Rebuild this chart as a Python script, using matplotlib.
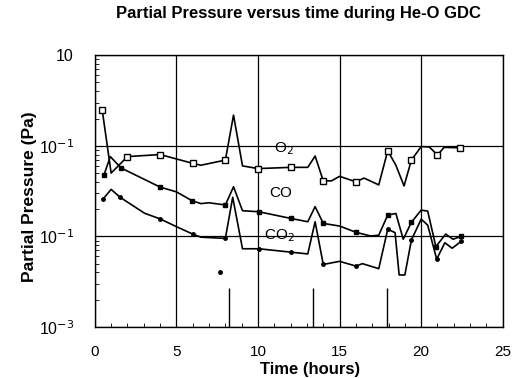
import matplotlib
matplotlib.use("Agg")
import matplotlib.pyplot as plt
import numpy as np
from matplotlib.ticker import FixedLocator, FixedFormatter, MultipleLocator, LogLocator, NullFormatter

plt.rcParams['font.family'] = ['Liberation Sans', 'DejaVu Sans']

# O2 series (open squares at marked samples)
o2_t = [0.45, 1.0, 2.0, 4.0, 6.0, 6.5, 8.0, 8.5, 9.05, 10.0, 12.0, 13.05, 13.5, 14.0, 14.5, 15.0,
        16.0, 16.5, 17.4, 17.95, 18.45, 18.95, 19.4, 20.0, 20.5, 21.0, 21.4, 22.4]
o2_p = [0.25, 0.050, 0.076, 0.080, 0.064, 0.061, 0.0695, 0.218, 0.060, 0.056, 0.0578, 0.0578, 0.077,
        0.041, 0.041, 0.046, 0.040, 0.044, 0.037, 0.088, 0.061, 0.036, 0.0695, 0.098, 0.097, 0.079,
        0.096, 0.095]
o2_marks = [0, 2, 3, 4, 6, 9, 10, 13, 16, 19, 22, 25, 27]

# CO series (filled squares)
co_t = [0.55, 0.95, 1.6, 4.0, 5.0, 5.95, 6.5, 7.0, 8.0, 8.5, 9.05, 10.05, 12.0, 13.05, 13.5, 14.0,
        15.0, 16.0, 16.9, 17.4, 17.95, 18.45, 18.9, 19.4, 20.0, 20.4, 20.9, 21.5, 21.95, 22.45]
co_p = [0.047, 0.076, 0.057, 0.035, 0.031, 0.0248, 0.023, 0.0235, 0.0222, 0.0353, 0.0192, 0.0187,
        0.0158, 0.0145, 0.0213, 0.0139, 0.0130, 0.0111, 0.0101, 0.0103, 0.0172, 0.0179, 0.0093,
        0.0143, 0.0195, 0.019, 0.0077, 0.0106, 0.0093, 0.0100]
co_marks = [0, 2, 3, 5, 8, 11, 12, 15, 17, 20, 23, 26, 29]

# CO2 series (dots)
co2_t = [0.5, 1.0, 1.55, 3.05, 4.0, 5.0, 6.0, 6.5, 8.0, 8.45, 9.05, 10.05, 12.0, 13.05, 13.5,
         14.0, 15.0, 16.0, 16.4, 17.4, 17.95, 18.4, 18.65, 19.0, 19.4, 20.0, 20.4, 20.95, 21.45,
         21.9, 22.45]
co2_p = [0.0258, 0.033, 0.027, 0.018, 0.0156, 0.0128, 0.0106, 0.0098, 0.0095, 0.027, 0.0073,
         0.0073, 0.0067, 0.0064, 0.0145, 0.0049, 0.0053, 0.0047, 0.0050, 0.0044, 0.012, 0.011,
         0.00375, 0.00375, 0.0091, 0.0155, 0.0133, 0.0056, 0.0085, 0.0074, 0.0088]
co2_marks = [0, 2, 4, 6, 8, 11, 12, 15, 17, 20, 24, 27, 30]

# stray point and spikes near the baseline
stray_t = [7.65]
stray_p = [0.004]
spike_t = [8.25, 13.35, 17.9]
spike_top = [0.0027, 0.0027, 0.0027]

series_labels = ["O$_2$", "CO", "CO$_2$"]
label_pos_t = [11.6, 11.4, 11.3]
label_pos_p = [0.094, 0.030, 0.0101]

y_tick_vals = [1.0, 0.1, 0.01, 0.001]
y_tick_labels = ["10", "10$^{-1}$", "10$^{-1}$", "10$^{-3}$"]
x_ticks = [0, 5, 10, 15, 20, 25]

fig = plt.figure(figsize=(5.21, 3.78), dpi=100)
ax = fig.add_axes([0.182, 0.135, 0.783, 0.719])

ax.set_yscale('log')
ax.set_xlim(0, 25)
ax.set_ylim(1e-3, 1.0)

lw = 1.2
ax.plot(o2_t, o2_p, color='black', lw=lw, marker='s', markersize=5,
        markerfacecolor='white', markeredgecolor='black', markeredgewidth=1.0,
        markevery=o2_marks, zorder=3)
ax.plot(co_t, co_p, color='black', lw=lw, marker='s', markersize=3,
        markevery=co_marks, zorder=3)
ax.plot(co2_t, co2_p, color='black', lw=lw, marker='o', markersize=2.5,
        markevery=co2_marks, zorder=3)
ax.plot(stray_t, stray_p, 'o', color='black', markersize=2.5, zorder=3)
ax.vlines(spike_t, 1e-3, spike_top, color='black', lw=1.0)

for lab, t, p in zip(series_labels, label_pos_t, label_pos_p):
    ax.text(t, p, lab, fontsize=11, ha='center', va='center')

ax.yaxis.set_major_locator(FixedLocator(y_tick_vals))
ax.yaxis.set_major_formatter(FixedFormatter(y_tick_labels))
ax.yaxis.set_minor_locator(LogLocator(base=10, subs=np.arange(2, 10)))
ax.yaxis.set_minor_formatter(NullFormatter())
ax.xaxis.set_major_locator(FixedLocator(x_ticks))
ax.xaxis.set_minor_locator(MultipleLocator(1))

ax.grid(True, which='major', color='black', lw=0.9)
ax.tick_params(which='both', direction='in', top=False, right=False)
ax.tick_params(axis='y', which='major', length=0, pad=15, labelsize=11.5)
ax.tick_params(axis='x', which='major', length=0, pad=13, labelsize=11)
ax.tick_params(which='minor', length=3)
for s in ax.spines.values():
    s.set_linewidth(1.0)

ax.set_xlabel("Time (hours)", fontsize=12, fontweight='bold', va='top')
ax.xaxis.set_label_coords(0.527, -0.129)
ax.set_ylabel("Partial Pressure (Pa)", fontsize=12.5, fontweight='bold')
ax.yaxis.set_label_coords(-0.142, 0.48)
fig.suptitle("Partial Pressure versus time during He-O GDC", fontsize=12,
             fontweight='bold', x=0.572, y=0.985)

fig.savefig("out.png", dpi=100)
